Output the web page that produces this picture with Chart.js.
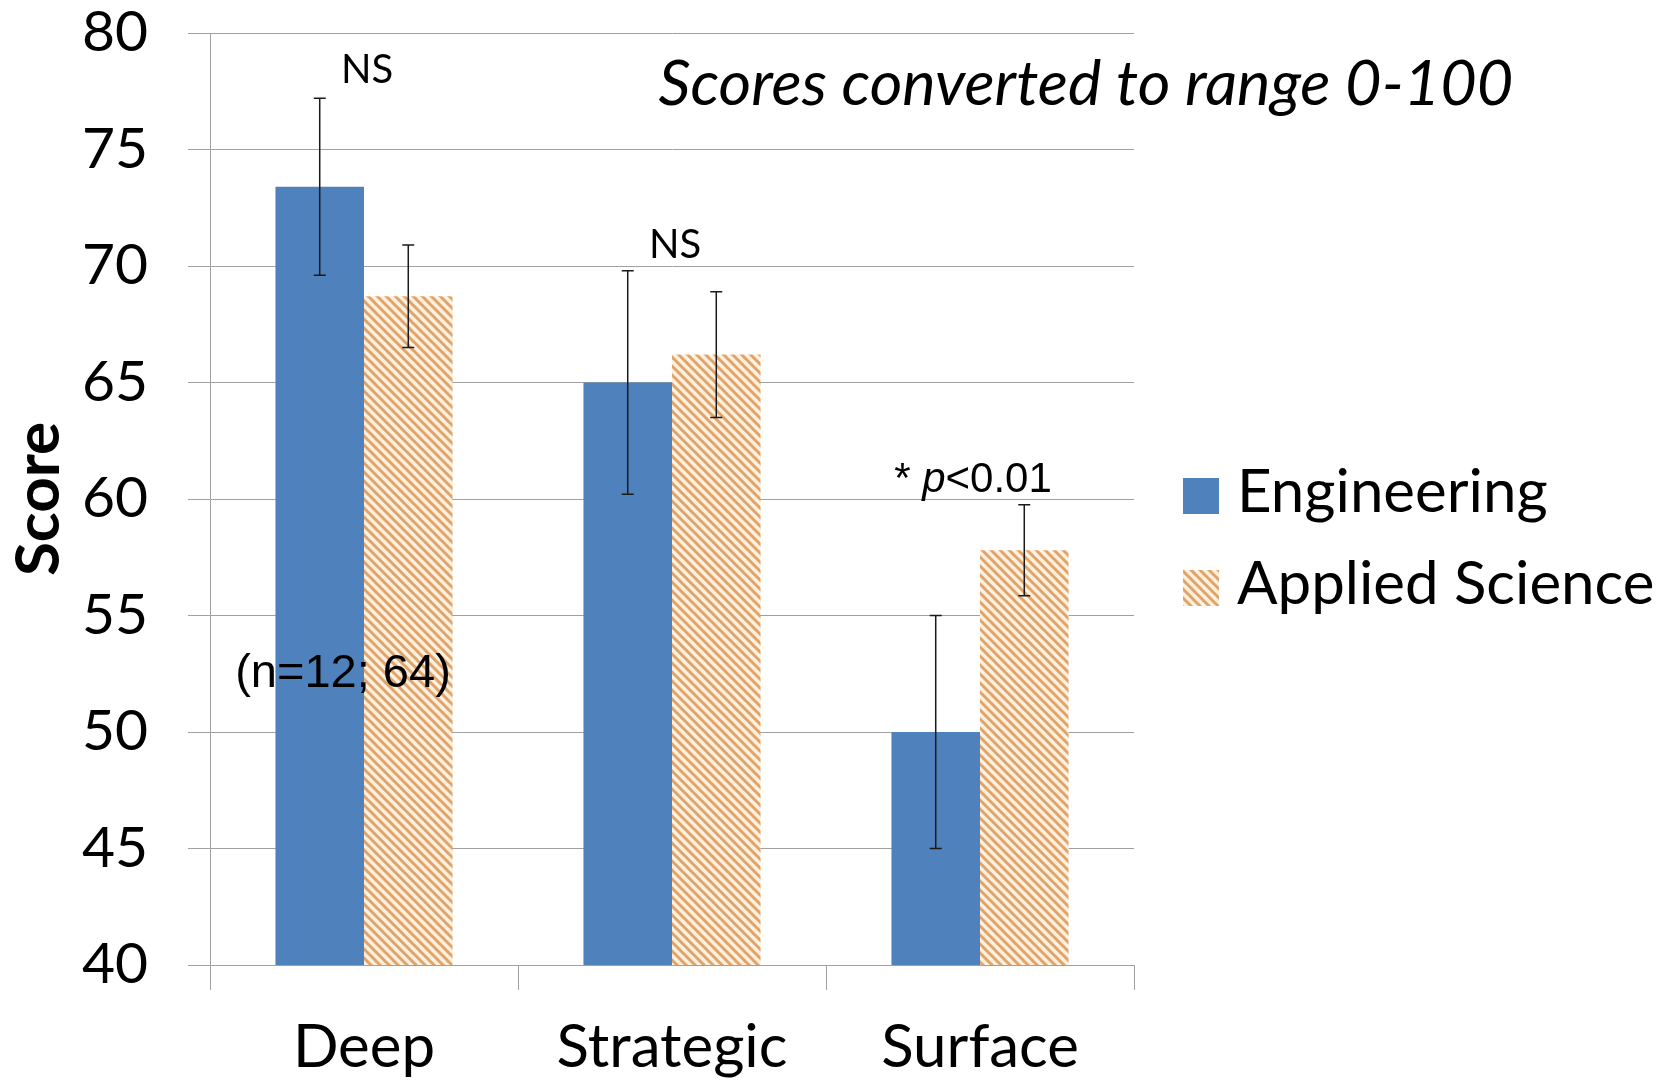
<!DOCTYPE html>
<html>
<head>
<meta charset="utf-8">
<script src="https://cdn.jsdelivr.net/npm/chart.js@4"></script>
<style>
html, body { margin: 0; padding: 0; background: #fff; }
#wrap { width: 1670px; height: 1080px; }
</style>
</head>
<body>
<div id="wrap"><canvas id="chart" width="1670" height="1080"></canvas></div>
<script>
const categories = ['Deep', 'Strategic', 'Surface'];
const engineering = [73.4, 65.0, 50.0];
const engineeringErr = [3.8, 4.8, 5.0];
const appliedScience = [68.7, 66.2, 57.8];
const appliedScienceErr = [2.2, 2.7, 1.95];
const yTicks = [40, 45, 50, 55, 60, 65, 70, 75, 80];

const gridColor = '#A0A0A0';

// diagonal stripe fill for the Applied Science bars
const stripes = (() => {
    const c = document.createElement('canvas');
    c.width = 9; c.height = 9;
    const g = c.getContext('2d');
    g.fillStyle = '#FEF0DF';
    g.fillRect(0, 0, 9, 9);
    g.strokeStyle = '#E0A46A';
    g.lineWidth = 3;
    g.beginPath();
    for (const k of [-9, 0, 9]) {
        g.moveTo(k - 1, -1);
        g.lineTo(k + 10, 10);
    }
    g.stroke();
    return g.createPattern(c, 'repeat');
})();

const notes = [
    {text: 'NS', cat: 0, dx: 3, y: 78.4},
    {text: 'NS', cat: 1, dx: 3, y: 70.9}
];

const errorBars = {
    id: 'errorBars',
    afterDatasetsDraw(chart) {
        const ctx = chart.ctx;
        const y = chart.scales.y;
        ctx.save();
        ctx.strokeStyle = '#1a1a1a';
        ctx.lineWidth = 1.5;
        chart.data.datasets.forEach((ds, i) => {
            chart.getDatasetMeta(i).data.forEach((bar, j) => {
                const hi = y.getPixelForValue(ds.data[j] + ds.errors[j]);
                const lo = y.getPixelForValue(ds.data[j] - ds.errors[j]);
                ctx.beginPath();
                ctx.moveTo(bar.x, hi); ctx.lineTo(bar.x, lo);
                ctx.moveTo(bar.x - 6, hi); ctx.lineTo(bar.x + 6, hi);
                ctx.moveTo(bar.x - 6, lo); ctx.lineTo(bar.x + 6, lo);
                ctx.stroke();
            });
        });
        ctx.restore();
    }
};

const extras = {
    id: 'extras',
    afterDraw(chart) {
        const {ctx, chartArea, scales: {x, y}} = chart;
        ctx.save();
        ctx.fillStyle = '#000';
        ctx.textBaseline = 'middle';

        ctx.textAlign = 'center';
        ctx.font = '40px Lato';
        notes.forEach(n => ctx.fillText(n.text, x.getPixelForValue(n.cat) + n.dx, y.getPixelForValue(n.y)));

        ctx.font = 'italic 63px Lato';
        ctx.fillText('Scores converted to range 0-100', chartArea.right - 48, y.getPixelForValue(77.8));

        ctx.font = '47px "Liberation Sans"';
        ctx.fillText('(n=12; 64)', x.getPixelForValue(0) - 21, y.getPixelForValue(52.5));

        // "* p<0.01" with italic p
        const parts = [['* ', '42px "Liberation Sans"'], ['p', 'italic 42px "Liberation Sans"'], ['<0.01', '42px "Liberation Sans"']];
        let total = 0;
        parts.forEach(p => { ctx.font = p[1]; total += ctx.measureText(p[0]).width; });
        let px = x.getPixelForValue(2) - 7 - total / 2;
        const py = y.getPixelForValue(60.8);
        ctx.textAlign = 'left';
        parts.forEach(p => {
            ctx.font = p[1];
            ctx.fillText(p[0], px, py);
            px += ctx.measureText(p[0]).width;
        });

        // legend at the right
        const lx = chartArea.right + 49;
        chart.data.datasets.forEach((ds, i) => {
            const cy = 496 + i * 92;
            ctx.fillStyle = ds.backgroundColor;
            ctx.fillRect(lx, cy - 18, 36, 36);
            ctx.fillStyle = '#000';
            ctx.font = '60px Lato';
            ctx.fillText(ds.label, lx + 54, cy - 3);
        });
        ctx.restore();
    }
};

new Chart(document.getElementById('chart'), {
    type: 'bar',
    data: {
        labels: categories,
        datasets: [
            {
                label: 'Engineering',
                data: engineering,
                errors: engineeringErr,
                backgroundColor: '#4F81BD',
                borderWidth: 0
            },
            {
                label: 'Applied Science',
                data: appliedScience,
                errors: appliedScienceErr,
                backgroundColor: stripes,
                borderWidth: 0
            }
        ]
    },
    options: {
        responsive: false,
        animation: false,
        devicePixelRatio: 1,
        barPercentage: 1,
        categoryPercentage: 0.575,
        layout: {padding: {top: 33, right: 536, bottom: 0, left: 0}},
        plugins: {legend: {display: false}, tooltip: {enabled: false}},
        scales: {
            x: {
                grid: {offset: true, drawOnChartArea: false, tickLength: 25, color: gridColor},
                border: {color: gridColor},
                ticks: {color: '#000', font: {family: 'Lato', size: 60}, padding: 22},
                afterFit: s => { s.height = 115; s.paddingLeft = 0; s.paddingRight = 0; }
            },
            y: {
                min: 40,
                max: 80,
                afterBuildTicks: s => { s.ticks = yTicks.map(v => ({value: v})); },
                grid: {color: gridColor, tickLength: 22},
                border: {color: gridColor},
                ticks: {color: '#000', font: {family: 'Lato', size: 57}, padding: 40},
                title: {display: true, text: 'Score', color: '#000', font: {family: 'Lato', size: 62, weight: 'bold'}, padding: 2},
                afterFit: s => { s.width = 210; s.paddingTop = 0; s.paddingBottom = 0; }
            }
        }
    },
    plugins: [errorBars, extras]
});
</script>
</body>
</html>
